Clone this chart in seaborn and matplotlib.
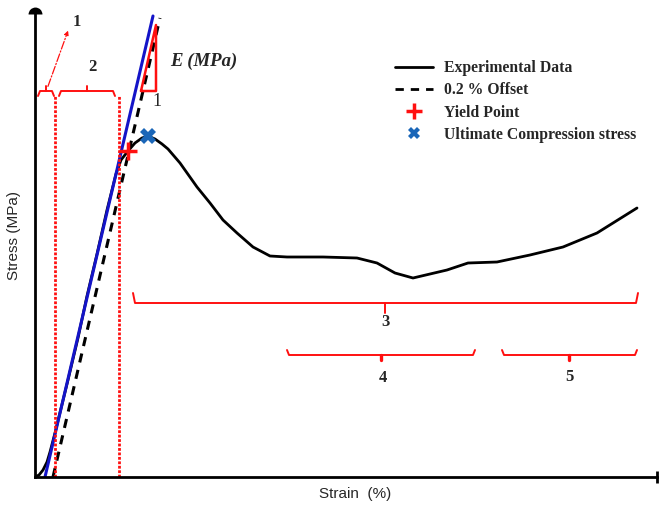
import numpy as np
import pandas as pd
import seaborn as sns
import matplotlib.pyplot as plt
from matplotlib.lines import Line2D

# -------------------------------------------------------------------
# Schematic stress-strain data (arbitrary units)
# -------------------------------------------------------------------

strain = [0, 4, 8, 12, 15, 20, 33, 43, 52, 62, 72, 81, 86, 93, 100, 107,
          113, 120, 127, 133, 145, 162, 175, 188, 202, 218, 235, 252, 288,
          322, 342, 360, 378, 395, 412, 433, 462, 495, 528, 562, 578, 602]
stress = [0, 2, 7, 15, 25, 44, 97, 139, 181, 223, 267, 303, 317, 326, 334,
          339, 341, 338, 333, 328, 314, 290, 274, 257, 244, 230, 221, 220,
          220, 219, 214, 204, 199, 203, 207, 214, 215, 222, 230, 244, 254, 269]

# elastic fit (blue) and 0.2 % offset line (dashed)
fit_strain = [10, 118]
fit_stress = [0, 461]
offset_strain = [18, 125]
offset_stress = [0, 459]

yield_pt = (93, 326)
ultimate_pt = (113, 341)

# region limits (strain) for the numbered zones
region_lines = [20, 84]
zone1 = (3, 19)
zone2 = (24, 80)
zone3 = (98, 603)
zone4 = (252, 440)
zone5 = (467, 602)

# slope triangle
tri_strain = [106, 121, 121, 106]
tri_stress = [386, 386, 452, 386]

# -------------------------------------------------------------------
# Style
# -------------------------------------------------------------------
sns.set_style("white")
plt.rcParams["font.family"] = ["Liberation Sans", "DejaVu Sans"]
serif = {"family": "Liberation Serif", "weight": "bold"}

red = "#ff1010"
blue = "#1414c8"

fig = plt.figure(figsize=(6.62, 5.09), dpi=100)
ax = fig.add_axes([35 / 662, 32 / 509, 622 / 662, 463 / 509])

df = pd.DataFrame({"strain": strain, "stress": stress})
sns.lineplot(data=df, x="strain", y="stress", color="black", lw=2,
             sort=False, ax=ax)
sns.lineplot(x=fit_strain, y=fit_stress, color=blue, lw=2.2, ax=ax)
sns.lineplot(x=offset_strain, y=offset_stress, color="black", lw=2.2,
             ax=ax, linestyle=(0, (3, 2.5)))

for xv in region_lines:
    ax.plot([xv, xv], [0, 381], color=red, lw=2, linestyle=(0, (1, 0.6)))

ax.plot(tri_strain, tri_stress, color=red, lw=1.8)

ax.plot(*yield_pt, marker="+", color=red, ms=13, mew=2.5, ls="none")
ax.plot(*ultimate_pt, marker="X", color="#1a66b8", ms=11, mew=0, ls="none")


def brace(x0, x1, y, d, label=None, ly=None, lx=None, mid_lw=1.4):
    # curly bracket: ends bend by +d, middle tip by -d
    xm = (x0 + x1) / 2
    xs = [x0, x0 + 2, xm - 3, xm, xm + 3, x1 - 2, x1]
    ys = [y + d, y, y, y, y, y, y + d]
    ax.plot(xs, ys, color=red, lw=1.4, solid_capstyle="round")
    ax.plot([xm, xm], [y, y - d], color=red, lw=mid_lw)
    if label is not None:
        ax.text(xm if lx is None else lx, ly, label, ha="center",
                va="center", fontsize=12, **serif)


brace(*zone3, 174, 10, "3", 155)
brace(*zone4, 122, 5, "4", 99, 348, mid_lw=2.4)
brace(*zone5, 122, 5, "5", 100, mid_lw=2.4)
brace(*zone1, 386, -5)
brace(*zone2, 386, -5, "2", 410, 57)

ax.annotate("", xy=(34, 449), xytext=(12, 388),
            arrowprops=dict(arrowstyle="-|>", color=red, lw=0.9,
                            linestyle="-.", mutation_scale=6))
ax.text(42, 455, "1", fontsize=12, ha="center", va="center", **serif)
ax.text(122, 375, "1", fontsize=13, ha="center", va="center",
        family="Liberation Serif")
ax.text(135, 416, "E (MPa)", fontsize=13.5, ha="left", va="center",
        family="Liberation Serif", weight="bold", style="italic")

# legend
handles = [
    Line2D([], [], color="black", lw=2),
    Line2D([], [], color="black", lw=2, linestyle=(0, (3, 2.5))),
    Line2D([], [], color=red, marker="+", ms=11, mew=2.5, ls="none"),
    Line2D([], [], color="#1a66b8", marker="X", ms=9, mew=0, ls="none"),
]
labels = ["Experimental Data", "0.2 % Offset", "Yield Point",
          "Ultimate Compression stress"]
ax.legend(handles, labels, loc="upper left",
          bbox_to_anchor=((395 - 35) / 622, (477 - 60) / 463),
          frameon=False, borderpad=0, borderaxespad=0, handlelength=2.4,
          handletextpad=0.75, labelspacing=0.4,
          prop={"family": "Liberation Serif", "weight": "bold", "size": 11.3})

ax.set_xlim(0, 622)
ax.set_ylim(0, 463)
ax.set_xticks([])
ax.set_yticks([])
sns.despine(ax=ax)
for s in ["left", "bottom"]:
    ax.spines[s].set_linewidth(2)
    ax.spines[s].set_color("black")
ax.plot(0, 463, marker="o", fillstyle="top", color="black", ms=10,
        mew=0, clip_on=False)
ax.plot(622, 0, marker="|", color="black", ms=8, mew=2, clip_on=False)

ax.set_xlabel("Strain  (%)", fontsize=11)
ax.set_ylabel("Stress (MPa)", fontsize=11)
ax.xaxis.set_label_coords((355 - 35) / 622, -10 / 463)
ax.yaxis.set_label_coords(-14 / 622, (477 - 235) / 463)

fig.savefig("out.png", dpi=100)
